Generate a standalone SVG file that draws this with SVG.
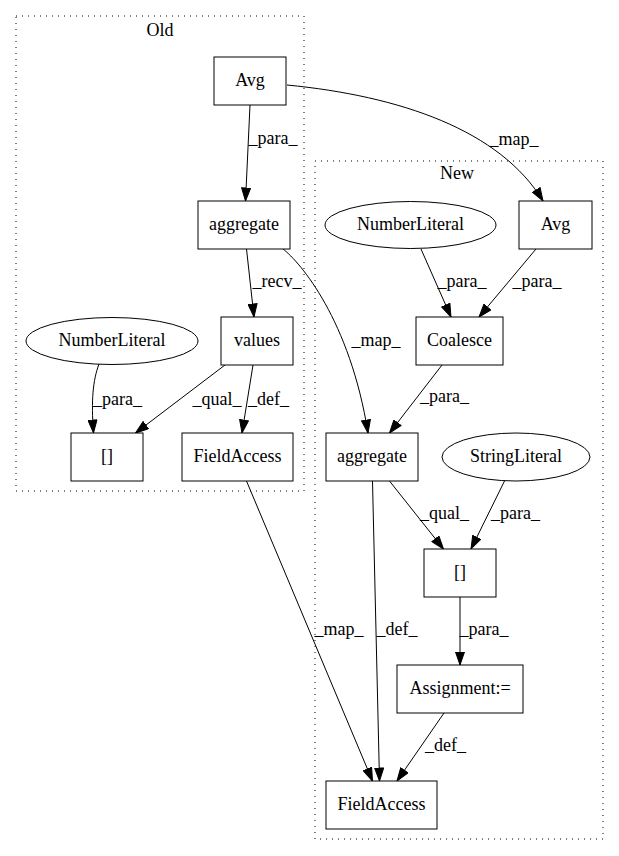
<svg xmlns="http://www.w3.org/2000/svg" width="619" height="856" viewBox="0 0 619 856">
<style>
text{font-family:"Liberation Serif","Times New Roman",serif;font-size:18px;fill:#000;text-anchor:middle}
.n{fill:#fff;stroke:#000;stroke-width:1}
.c{fill:none;stroke:#000;stroke-width:1;stroke-dasharray:1,5}
.e{fill:none;stroke:#000;stroke-width:1;marker-end:url(#ah)}
</style>
<defs>
<marker id="ah" markerUnits="userSpaceOnUse" markerWidth="14" markerHeight="10" viewBox="0 0 14 10" refX="13.5" refY="5" orient="auto">
<path d="M0.5,0.5 L13.5,5 L0.5,9.5 z" fill="#000" stroke="#000" stroke-width="1"/>
</marker>
</defs>
<rect width="619" height="856" fill="#fff"/>
<g id="cluster_old">
<rect class="c" x="16" y="16" width="288" height="475"/>
<text x="160" y="36">Old</text>
</g>
<g id="cluster_new">
<rect class="c" x="315" y="161" width="288" height="678"/>
<text x="457" y="179">New</text>
</g>
<g id="edges">
<path class="e" d="M250,105 L245.5,201"/>
<text x="273" y="144">_para_</text>
<path class="e" d="M287,85 C400,96 500,130 543,201"/>
<text x="514" y="145">_map_</text>
<path class="e" d="M246.5,249 L254,317"/>
<text x="277" y="287">_recv_</text>
<path class="e" d="M283,249 C300,262 350,320 368,433"/>
<text x="376" y="346">_map_</text>
<path class="e" d="M99,364 C93,380 91,400 93.5,433"/>
<text x="117.5" y="405">_para_</text>
<path class="e" d="M225,365 L135.5,433"/>
<text x="217" y="405">_qual_</text>
<path class="e" d="M253,365 L242,433"/>
<text x="268.5" y="405">_def_</text>
<path class="e" d="M421,249 L451,317"/>
<text x="462" y="287">_para_</text>
<path class="e" d="M536,249 L479,317"/>
<text x="537" y="287">_para_</text>
<path class="e" d="M442,365 L389.5,433"/>
<text x="444.5" y="402">_para_</text>
<path class="e" d="M389.5,481 L443.5,549"/>
<text x="444.5" y="519">_qual_</text>
<path class="e" d="M504.5,481 L471,549"/>
<text x="515.5" y="519">_para_</text>
<path class="e" d="M246.5,481 L372.5,781"/>
<text x="339" y="635">_map_</text>
<path class="e" d="M372.5,481 L379.5,781"/>
<text x="397" y="635">_def_</text>
<path class="e" d="M460,597 L460,665"/>
<text x="484" y="635">_para_</text>
<path class="e" d="M444,713 L397,781"/>
<text x="445.5" y="751">_def_</text>
</g>
<g id="old_avg">
<rect class="n" x="214" y="57" width="72" height="48"/>
<text x="250" y="85.5">Avg</text>
</g>
<g id="old_aggregate">
<rect class="n" x="198" y="201" width="92" height="48"/>
<text x="244" y="229.5">aggregate</text>
</g>
<g id="old_values">
<rect class="n" x="221" y="317" width="72" height="48"/>
<text x="257" y="345.5">values</text>
</g>
<g id="old_numberliteral">
<ellipse class="n" cx="112" cy="341" rx="86" ry="23.5"/>
<text x="112" y="345.5">NumberLiteral</text>
</g>
<g id="old_index">
<rect class="n" x="71" y="433" width="72" height="48"/>
<text x="107" y="461.5">[]</text>
</g>
<g id="old_fieldaccess">
<rect class="n" x="182" y="433" width="111" height="48"/>
<text x="237.5" y="461.5">FieldAccess</text>
</g>
<g id="new_numberliteral">
<ellipse class="n" cx="410.5" cy="225" rx="85.5" ry="23.5"/>
<text x="410.5" y="229.5">NumberLiteral</text>
</g>
<g id="new_avg">
<rect class="n" x="519" y="201" width="73" height="48"/>
<text x="555.5" y="229.5">Avg</text>
</g>
<g id="new_coalesce">
<rect class="n" x="416" y="317" width="87" height="48"/>
<text x="459.5" y="345.5">Coalesce</text>
</g>
<g id="new_aggregate">
<rect class="n" x="326" y="433" width="92" height="48"/>
<text x="372" y="461.5">aggregate</text>
</g>
<g id="new_stringliteral">
<ellipse class="n" cx="516" cy="457" rx="74" ry="24"/>
<text x="516" y="461.5">StringLiteral</text>
</g>
<g id="new_index">
<rect class="n" x="424" y="549" width="72" height="48"/>
<text x="460" y="577.5">[]</text>
</g>
<g id="new_assignment">
<rect class="n" x="397" y="665" width="126" height="48"/>
<text x="460" y="693.5">Assignment:=</text>
</g>
<g id="new_fieldaccess">
<rect class="n" x="326" y="781" width="111" height="48"/>
<text x="381.5" y="809.5">FieldAccess</text>
</g>
</svg>
